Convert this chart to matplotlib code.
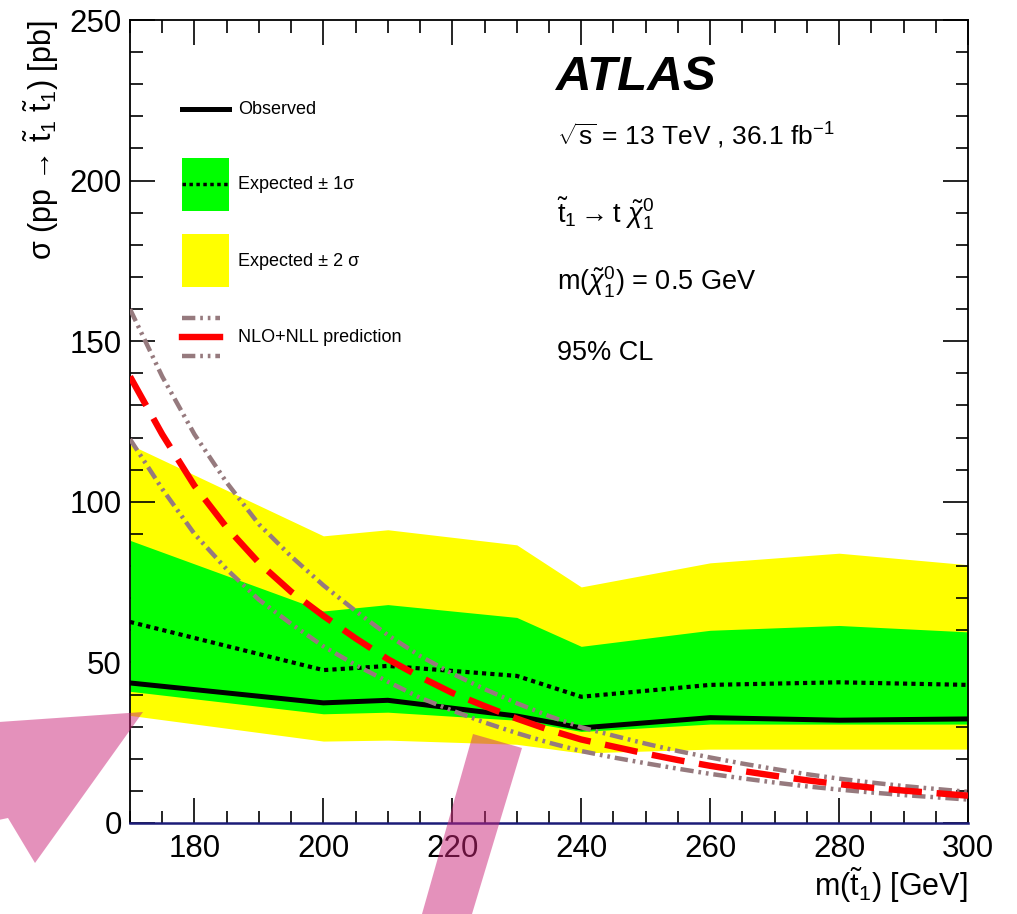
import matplotlib
matplotlib.use("Agg")
import matplotlib.pyplot as plt
from matplotlib.patches import Polygon, Rectangle
from matplotlib.lines import Line2D
from matplotlib.ticker import MultipleLocator

plt.rcParams["font.family"] = ["Liberation Sans", "DejaVu Sans"]
plt.rcParams["mathtext.fontset"] = "custom"
plt.rcParams["mathtext.rm"] = "Liberation Sans"
plt.rcParams["mathtext.it"] = "Liberation Sans:italic"
plt.rcParams["mathtext.bf"] = "Liberation Sans:bold"
plt.rcParams["mathtext.sf"] = "Liberation Sans"

# limit points (stop mass in GeV, cross section in pb)
mass = [170, 200, 210, 230, 240, 260, 280, 300]
observed = [43.6, 37.4, 38.2, 33.3, 29.6, 32.8, 32.0, 32.4]
expected = [62.6, 47.6, 48.9, 45.8, 39.3, 43.0, 43.8, 43.0]
exp_1s_up = [88.0, 66.0, 68.0, 64.0, 55.0, 60.0, 61.5, 59.5]
exp_1s_dn = [41.0, 34.0, 34.5, 32.0, 28.5, 30.8, 30.8, 30.8]
exp_2s_up = [117.8, 89.4, 91.3, 86.6, 73.5, 81.0, 84.0, 80.4]
exp_2s_dn = [33.5, 25.5, 25.8, 24.5, 21.8, 23.0, 23.0, 23.0]

# theory prediction
theo_mass = [170, 175, 180, 185, 190, 195, 200, 205, 210, 215, 220, 225, 230, 235,
             240, 245, 250, 255, 260, 265, 270, 275, 280, 285, 290, 295, 300]
theo_xsec = [139.0, 121.0, 105.0, 92.0, 81.0, 72.0, 64.5, 57.5, 51.0, 45.5, 40.5,
             36.4, 32.5, 29.0, 26.0, 23.8, 21.6, 19.6, 17.8, 16.2, 14.7, 13.3,
             12.1, 11.0, 10.1, 9.3, 8.5]
theo_up = [160.0, 139.0, 121.0, 106.0, 93.0, 83.0, 74.0, 66.0, 58.5, 52.0, 46.5,
           41.7, 37.3, 33.3, 29.8, 27.2, 24.7, 22.4, 20.4, 18.5, 16.8, 15.2,
           13.8, 12.6, 11.5, 10.6, 9.7]
theo_dn = [119.5, 104.0, 90.0, 79.0, 69.5, 62.0, 55.0, 49.2, 44.0, 39.0, 35.0,
           31.3, 28.0, 25.0, 22.4, 20.4, 18.6, 16.9, 15.3, 13.9, 12.6, 11.4,
           10.4, 9.5, 8.7, 8.0, 7.3]

W, H = 1017, 914
fig = plt.figure(figsize=(W / 100, H / 100), dpi=100)
ax = fig.add_axes([130 / W, 1 - 823 / H, (968 - 130) / W, (823 - 20) / H])

band_col = "#967a7e"
ddot = (3, 1.1, 0.6, 1.1, 0.6, 1.1)
ax.fill_between(mass, exp_2s_dn, exp_2s_up, color="#ffff00", lw=0, zorder=1)
ax.fill_between(mass, exp_1s_dn, exp_1s_up, color="#00ff00", lw=0, zorder=2)
ax.plot(mass, expected, color="black", lw=3, dashes=(1, 1), zorder=3)
ax.plot(mass, observed, color="black", lw=3.6, zorder=4)
ax.plot(theo_mass, theo_up, color=band_col, lw=3.2, dashes=ddot, zorder=5)
ax.plot(theo_mass, theo_dn, color=band_col, lw=3.2, dashes=ddot, zorder=5)
ax.plot(theo_mass, theo_xsec, color="red", lw=4.6, dashes=(5.2, 2.3), zorder=6)

ax.set_xlim(170, 300)
ax.set_ylim(0, 250)
ax.xaxis.set_major_locator(MultipleLocator(20))
ax.xaxis.set_minor_locator(MultipleLocator(5))
ax.yaxis.set_major_locator(MultipleLocator(50))
ax.yaxis.set_minor_locator(MultipleLocator(10))
ax.tick_params(which="both", direction="in", top=True, right=True, width=1.2, colors="black")
ax.tick_params(which="major", length=18, labelsize=22.5)
ax.tick_params(which="minor", length=9)
ax.tick_params(axis="x", which="major", pad=8)
ax.tick_params(axis="y", which="major", pad=6)
for s in ax.spines.values():
    s.set_linewidth(1.3)
ax.spines["bottom"].set_color("#1c1c78")
ax.spines["bottom"].set_linewidth(1.8)

ax.set_xlabel(r"m($\tilde{\mathrm{t}}_1$) [GeV]", fontsize=22, loc="right", labelpad=1)
ax.set_ylabel(r"σ (pp → $\tilde{\mathrm{t}}_1\ \tilde{\mathrm{t}}_1$) [pb]",
              fontsize=22, loc="top", labelpad=6)


def fx(px):
    return px / W


def fy(py):
    return 1 - py / H


# text block
fig.text(fx(555), fy(90), "ATLAS", fontsize=35.5, fontweight="bold", fontstyle="italic", va="baseline")
fig.text(fx(557), fy(145), r"$\sqrt{\mathrm{s}}$ = 13 TeV , 36.1 fb$^{-1}$", fontsize=19, va="baseline")
fig.text(fx(557), fy(222), r"$\tilde{\mathrm{t}}_1 \rightarrow \mathrm{t}\ \tilde{\chi}^0_1$", fontsize=19.5, va="baseline")
fig.text(fx(557), fy(290), r"m($\tilde{\chi}^0_1$) = 0.5 GeV", fontsize=19.5, va="baseline")
fig.text(fx(557), fy(360), "95% CL", fontsize=19.5, va="baseline")

# legend
tf = fig.transFigure
fig.add_artist(Line2D([fx(182), fx(229)], [fy(109), fy(109)], color="black", lw=3.6, transform=tf))
fig.add_artist(Rectangle((fx(182), fy(211)), fx(47), 53 / H, color="#00ff00", lw=0, transform=tf))
fig.add_artist(Line2D([fx(182), fx(229)], [fy(184), fy(184)], color="black", lw=2.5, dashes=(1, 1), transform=tf))
fig.add_artist(Rectangle((fx(182), fy(287)), fx(47), 53 / H, color="#ffff00", lw=0, transform=tf))
fig.add_artist(Line2D([fx(182), fx(220)], [fy(318), fy(318)], color=band_col, lw=3.2, dashes=ddot, transform=tf))
fig.add_artist(Line2D([fx(182), fx(220)], [fy(337), fy(337)], color="red", lw=4.6, transform=tf))
fig.add_artist(Line2D([fx(182), fx(220)], [fy(356), fy(356)], color=band_col, lw=3.2, dashes=ddot, transform=tf))
fig.text(fx(238), fy(109), "Observed", fontsize=13, va="center")
fig.text(fx(238), fy(184), "Expected ± 1σ", fontsize=13, va="center")
fig.text(fx(238), fy(261), "Expected ± 2 σ", fontsize=13, va="center")
fig.text(fx(238), fy(337), "NLO+NLL prediction", fontsize=13, va="center")

# pink annotation arrows
pink = (203 / 255, 37 / 255, 120 / 255)
arrow1 = [(143, 712), (-30, 724), (-30, 826), (8, 818), (35, 863)]
arrow2 = [(473, 734), (522, 748), (472, 914), (422, 914)]
for pts in (arrow1, arrow2):
    fig.add_artist(Polygon([(fx(a), fy(b)) for a, b in pts], closed=True, facecolor=pink,
                           alpha=0.5, lw=0, transform=tf, zorder=20))

fig.savefig("out.png", dpi=100)
